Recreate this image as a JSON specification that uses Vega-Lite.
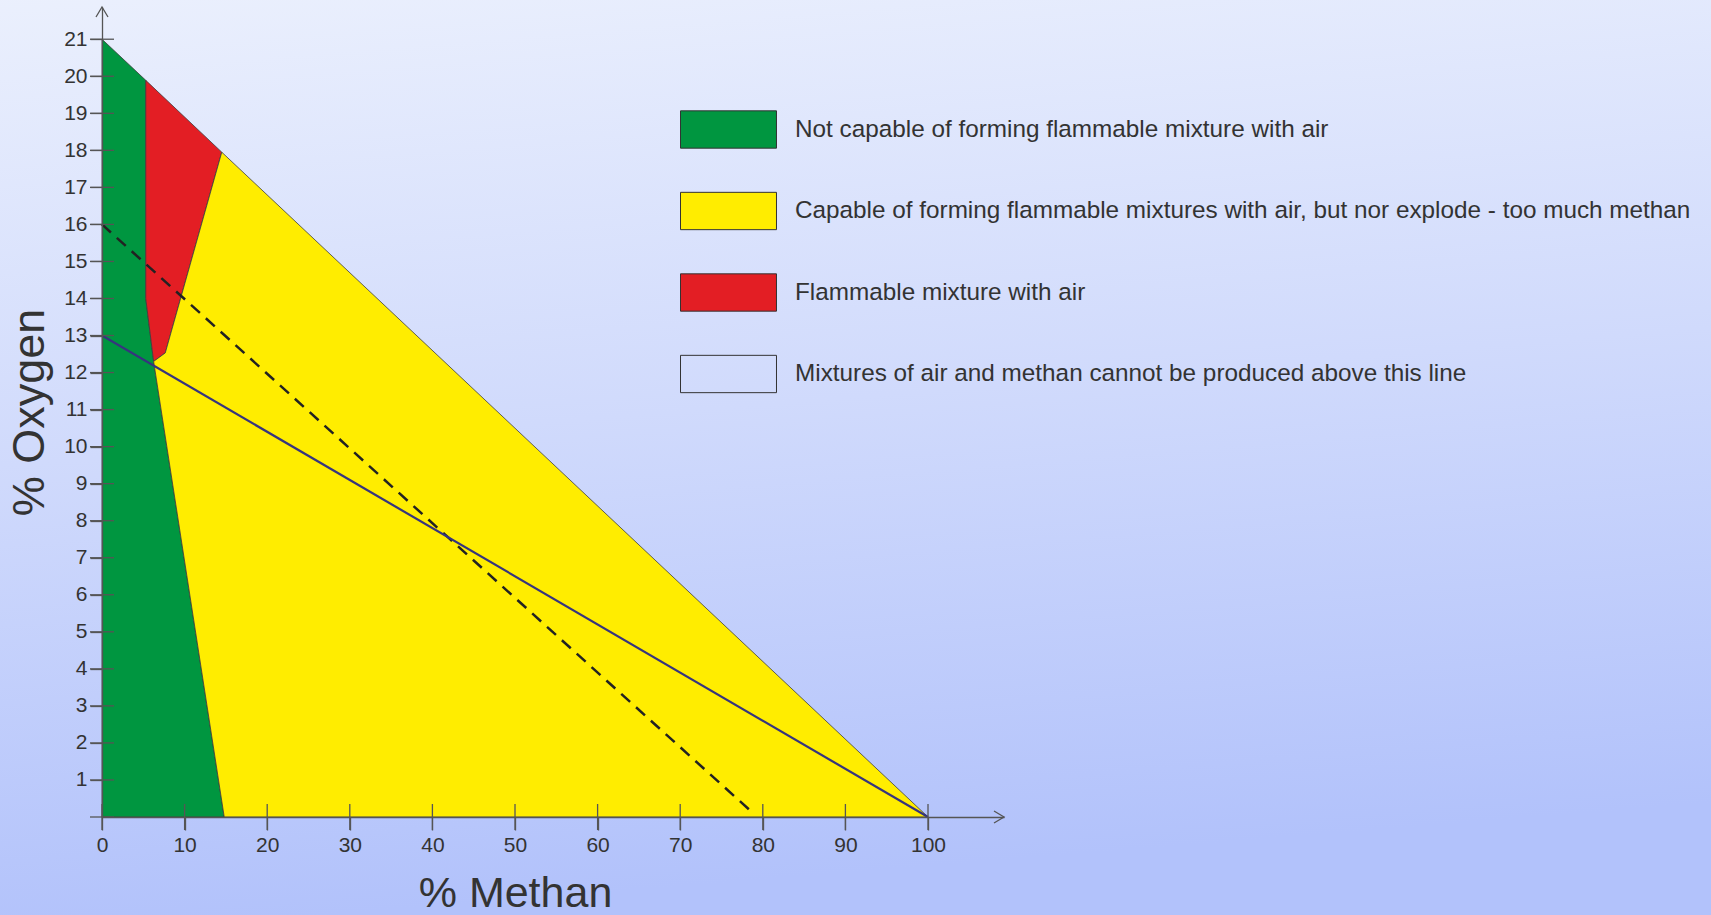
{
  "$schema": "https://vega.github.io/schema/vega-lite/v6.json",
  "width": 902,
  "height": 810,
  "autosize": {"type": "none"},
  "padding": {"left": 102, "top": 7, "right": 707, "bottom": 98},
  "background": "#d2dcfc",
  "config": {
    "view": {"stroke": null},
    "font": "Liberation Sans",
    "axis": {"grid": false}
  },
  "datasets": {
    "regions": [
      {"region": "Not capable of forming flammable mixture with air", "i": 1, "x": 0, "y": 0},
      {"region": "Not capable of forming flammable mixture with air", "i": 2, "x": 0, "y": 21},
      {"region": "Not capable of forming flammable mixture with air", "i": 3, "x": 5.3, "y": 19.89},
      {"region": "Not capable of forming flammable mixture with air", "i": 4, "x": 5.3, "y": 14.0},
      {"region": "Not capable of forming flammable mixture with air", "i": 5, "x": 6.25, "y": 12.3},
      {"region": "Not capable of forming flammable mixture with air", "i": 6, "x": 14.8, "y": 0},
      {"region": "Flammable mixture with air", "i": 1, "x": 5.3, "y": 19.89},
      {"region": "Flammable mixture with air", "i": 2, "x": 14.5, "y": 17.95},
      {"region": "Flammable mixture with air", "i": 3, "x": 7.66, "y": 12.53},
      {"region": "Flammable mixture with air", "i": 4, "x": 6.25, "y": 12.3},
      {"region": "Flammable mixture with air", "i": 5, "x": 5.3, "y": 14.0},
      {"region": "Capable of forming flammable mixtures with air, but nor explode - too much methan", "i": 1, "x": 14.5, "y": 17.95},
      {"region": "Capable of forming flammable mixtures with air, but nor explode - too much methan", "i": 2, "x": 100, "y": 0},
      {"region": "Capable of forming flammable mixtures with air, but nor explode - too much methan", "i": 3, "x": 14.8, "y": 0},
      {"region": "Capable of forming flammable mixtures with air, but nor explode - too much methan", "i": 4, "x": 6.25, "y": 12.3},
      {"region": "Capable of forming flammable mixtures with air, but nor explode - too much methan", "i": 5, "x": 7.66, "y": 12.53}
    ],
    "solid": [{"x": 0, "y": 13}, {"x": 100, "y": 0}],
    "dashed": [{"x": 0, "y": 16}, {"x": 78.6, "y": 0.15}],
    "xticks": [{"t": 0}, {"t": 10}, {"t": 20}, {"t": 30}, {"t": 40}, {"t": 50}, {"t": 60}, {"t": 70}, {"t": 80}, {"t": 90}, {"t": 100}],
    "yticks": [{"t": 0}, {"t": 1}, {"t": 2}, {"t": 3}, {"t": 4}, {"t": 5}, {"t": 6}, {"t": 7}, {"t": 8}, {"t": 9}, {"t": 10}, {"t": 11}, {"t": 12}, {"t": 13}, {"t": 14}, {"t": 15}, {"t": 16}, {"t": 17}, {"t": 18}, {"t": 19}, {"t": 20}, {"t": 21}]
  },
  "layer": [
    {
      "data": {"values": [{}]},
      "mark": {
        "type": "rect",
        "clip": false,
        "fill": {
          "gradient": "linear",
          "x1": 0, "y1": 0, "x2": 0.15, "y2": 1,
          "stops": [
            {"offset": 0, "color": "#ebf0fd"},
            {"offset": 0.5, "color": "#d0dafc"},
            {"offset": 1, "color": "#b2c2fb"}
          ]
        }
      },
      "encoding": {
        "x": {
          "datum": -12.6, "type": "quantitative",
          "scale": {"domain": [0, 109.2], "nice": false, "zero": false},
          "axis": {
            "zindex": 1,
            "values": [0, 10, 20, 30, 40, 50, 60, 70, 80, 90, 100],
            "domainColor": "#555555", "domainWidth": 1.3,
            "tickColor": "#555555", "tickSize": 13, "tickWidth": 1.3,
            "labelFontSize": 21, "labelColor": "#333333", "labelPadding": 4, "labelFlush": false,
            "title": "% Methan", "titleFontSize": 43, "titleFontWeight": "normal", "titleColor": "#333333",
            "titleX": 413, "titleY": 89, "titleBaseline": "alphabetic", "titleAnchor": "middle"
          }
        },
        "x2": {"datum": 195.5},
        "y": {
          "datum": 22.3, "type": "quantitative",
          "scale": {"domain": [0, 21.87], "nice": false, "zero": false},
          "axis": {
            "zindex": 1,
            "values": [1, 2, 3, 4, 5, 6, 7, 8, 9, 10, 11, 12, 13, 14, 15, 16, 17, 18, 19, 20, 21],
            "domainColor": "#555555", "domainWidth": 1.3,
            "tickColor": "#555555", "tickSize": 12, "tickWidth": 1.3,
            "labelFontSize": 21, "labelColor": "#333333", "labelPadding": 3, "labelFlush": false,
            "title": "% Oxygen", "titleFontSize": 45, "titleFontWeight": "normal", "titleColor": "#333333",
            "titleX": -59, "titleBaseline": "alphabetic", "titleAnchor": "middle"
          }
        },
        "y2": {"datum": -2.8}
      }
    },
    {
      "data": {"name": "regions"},
      "mark": {"type": "line", "interpolate": "linear-closed", "stroke": "#3d3d3d", "strokeWidth": 0.8},
      "encoding": {
        "x": {"field": "x", "type": "quantitative"},
        "y": {"field": "y", "type": "quantitative"},
        "order": {"field": "i", "type": "quantitative"},
        "fill": {
          "field": "region", "type": "nominal",
          "scale": {
            "domain": [
              "Not capable of forming flammable mixture with air",
              "Capable of forming flammable mixtures with air, but nor explode - too much methan",
              "Flammable mixture with air",
              "Mixtures of air and methan cannot be produced above this line"
            ],
            "range": ["#009640", "#ffed00", "#e31e24", "transparent"]
          },
          "legend": {
            "title": null,
            "orient": "none",
            "legendX": 599,
            "legendY": 95,
            "padding": 0,
            "symbolType": "M-1.8,-0.7H1.8V0.7H-1.8Z",
            "symbolSize": 2844,
            "symbolStrokeColor": "#333333",
            "symbolStrokeWidth": 1,
            "labelOffset": 39,
            "rowPadding": 32.5,
            "labelFontSize": 24.3,
            "labelColor": "#333333",
            "labelLimit": 2000
          }
        }
      }
    },
    {
      "data": {"name": "dashed"},
      "mark": {"type": "line", "stroke": "#222222", "strokeWidth": 2.5, "strokeDash": [12, 8]},
      "encoding": {
        "x": {"field": "x", "type": "quantitative"},
        "y": {"field": "y", "type": "quantitative"}
      }
    },
    {
      "data": {"name": "solid"},
      "mark": {"type": "line", "stroke": "#36347e", "strokeWidth": 2.2},
      "encoding": {
        "x": {"field": "x", "type": "quantitative"},
        "y": {"field": "y", "type": "quantitative"}
      }
    },
    {
      "data": {"name": "xticks"},
      "mark": {"type": "tick", "orient": "vertical", "size": 26, "thickness": 1.3, "color": "#555555", "opacity": 1},
      "encoding": {
        "x": {"field": "t", "type": "quantitative"},
        "y": {"datum": 0, "type": "quantitative"}
      }
    },
    {
      "data": {"name": "yticks"},
      "mark": {"type": "tick", "orient": "horizontal", "size": 24, "thickness": 1.3, "color": "#555555", "opacity": 1},
      "encoding": {
        "y": {"field": "t", "type": "quantitative"},
        "x": {"datum": 0, "type": "quantitative"}
      }
    },
    {
      "data": {"values": [{}]},
      "mark": {"type": "point", "shape": "M-1,-0.6L0,0L-1,0.6", "size": 400, "filled": false, "stroke": "#555555", "strokeWidth": 1.3, "opacity": 1},
      "encoding": {
        "x": {"datum": 109.2, "type": "quantitative"},
        "y": {"datum": 0, "type": "quantitative"}
      }
    },
    {
      "data": {"values": [{}]},
      "mark": {"type": "point", "shape": "M-0.6,1L0,0L0.6,1", "size": 400, "filled": false, "stroke": "#555555", "strokeWidth": 1.3, "opacity": 1},
      "encoding": {
        "x": {"datum": 0, "type": "quantitative"},
        "y": {"datum": 21.87, "type": "quantitative"}
      }
    }
  ]
}
